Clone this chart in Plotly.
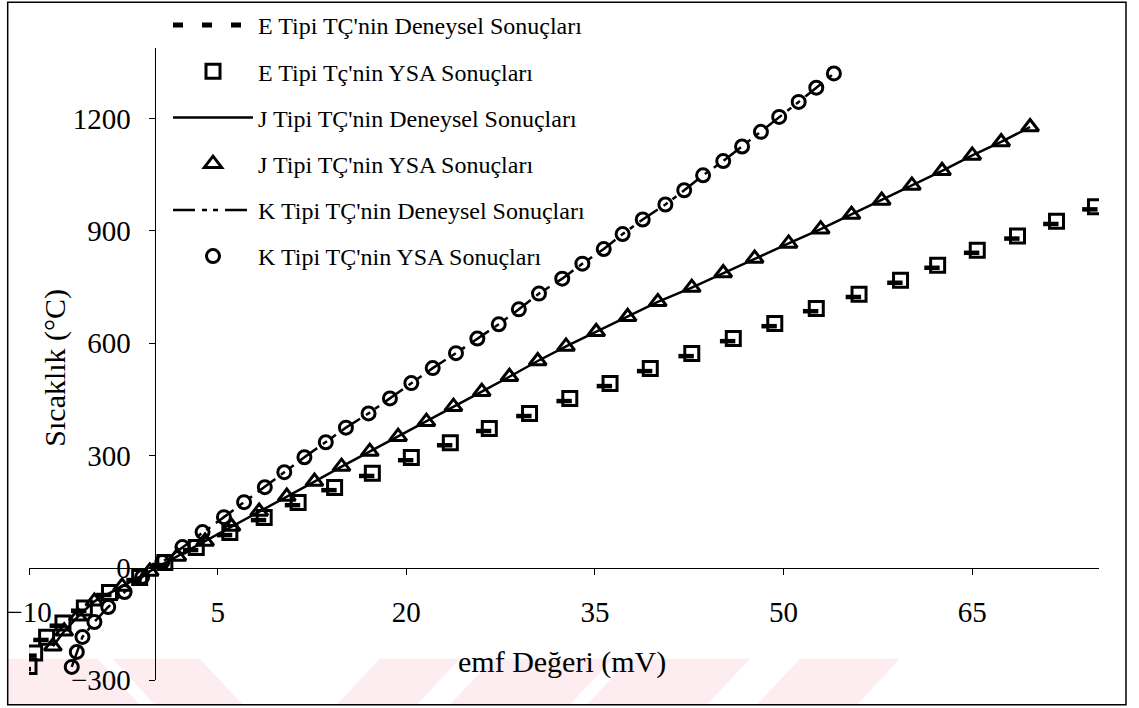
import plotly.graph_objects as go

# ---------------- data ----------------
# E type thermocouple: ANN (YSA) results
e_emf = [-10.0, -9.55, -8.6, -7.3, -5.6, -3.6, -1.2, 0.8, 3.3, 5.97, 8.7, 11.4, 14.3, 17.3,
         20.4, 23.5, 26.6, 29.8, 33.0, 36.2, 39.4, 42.7, 46.0, 49.3, 52.6, 56.0, 59.3, 62.25,
         65.4, 68.6, 71.7, 74.8]
e_temp = [-264, -228, -186, -148, -108, -66, -26, 14, 54, 94, 134, 174, 214, 252, 294, 334,
          372, 412, 452, 492, 532, 572, 612, 652, 692, 730, 768, 808, 848, 886, 925, 964]
# E type thermocouple: experimental results (short dash marks)
e_den_emf = [-10.45, -10.0, -9.05, -7.75, -6.05, -4.05, -1.65, 0.35, 2.85, 5.55, 8.25, 10.95,
             13.85, 16.85, 19.95, 23.05, 26.15, 29.35, 32.55, 35.75, 38.95, 42.25, 45.55,
             48.85, 52.15, 55.55, 58.85, 61.8, 64.95, 68.15, 71.25, 74.35]
e_den_temp = [-271, -235, -193, -155, -115, -73, -33, 7, 47, 87, 127, 167, 207, 245, 287, 327,
              365, 405, 445, 485, 525, 565, 605, 645, 685, 723, 761, 801, 841, 879, 918, 957]

# J type thermocouple
j_emf = [-8.1, -7.2, -6.1, -4.8, -2.6, -0.4, 1.8, 4.0, 6.1, 8.3, 10.5, 12.7, 14.85, 17.1,
         19.35, 21.6, 23.75, 26.0, 28.2, 30.45, 32.7, 35.1, 37.6, 40.0, 42.7, 45.2, 47.7,
         50.4, 52.95, 55.4, 57.8, 60.2, 62.6, 65.0, 67.3, 69.6]
j_temp = [-210, -170, -130, -90, -50, -10, 30, 70, 110, 150, 190, 230, 270, 310, 350, 390,
          430, 470, 510, 552, 591, 630, 670, 710, 748, 787, 826, 866, 904, 943, 981, 1021,
          1060, 1101, 1137, 1177]

# K type thermocouple
k_emf = [-6.6, -6.2, -5.75, -4.8, -3.7, -2.4, -1.0, 0.6, 2.2, 3.8, 5.5, 7.1, 8.75, 10.3,
         11.9, 13.6, 15.2, 17.0, 18.7, 20.4, 22.1, 23.95, 25.65, 27.35, 28.95, 30.55, 32.4,
         34.0, 35.7, 37.2, 38.8, 40.6, 42.1, 43.6, 45.2, 46.7, 48.2, 49.65, 51.2, 52.6, 54.0]
k_temp = [-265, -225, -185, -145, -105, -65, -25, 15, 55, 95, 135, 175, 215, 255, 295, 335,
          374, 412, 452, 493, 533, 573, 612, 650, 690, 732, 772, 812, 851, 891, 930, 970,
          1008, 1048, 1086, 1125, 1164, 1204, 1244, 1282, 1320]

names = ["E Tipi TÇ'nin Deneysel Sonuçları", "E Tipi Tç'nin YSA Sonuçları",
         "J Tipi TÇ'nin Deneysel Sonuçları", "J Tipi TÇ'nin YSA Sonuçları",
         "K Tipi TÇ'nin Deneysel Sonuçları", "K Tipi TÇ'nin YSA Sonuçları"]

x_title = "emf Değeri (mV)"
y_title = "Sıcaklık (°C)"

X_RANGE = [-10, 75.08]
Y_RANGE = [-300, 1388]

# ---------------- layout geometry ----------------
W, H = 1139, 708
ML, MR, MT, MB = 29.3, 40, 47.7, 27.7
PW, PH = W - ML - MR, H - MT - MB


def px_x(px):
    return (px - ML) / PW


def px_y(py):
    return (H - MB - py) / PH


FONT = "Liberation Serif, Times New Roman, serif"
BLACK = "#000000"
PINK = "#fdedf0"

fig = go.Figure()

# E experimental (legend entry + dash marks)
fig.add_trace(go.Scatter(x=[None], y=[None], mode="lines", name=names[0], legendgroup="g1",
                         line=dict(color=BLACK, width=5, dash="10px,19px")))
fig.add_trace(go.Scatter(x=e_den_emf, y=e_den_temp, mode="markers", name=names[0],
                         legendgroup="g1", showlegend=False,
                         marker=dict(symbol="line-ew", size=11, color=BLACK,
                                     line=dict(color=BLACK, width=4.5))))
# E ANN
fig.add_trace(go.Scatter(x=e_emf, y=e_temp, mode="markers", name=names[1], legendgroup="g2",
                         marker=dict(symbol="square-open", size=14, color=BLACK,
                                     line=dict(color=BLACK, width=3))))
# J experimental
fig.add_trace(go.Scatter(x=j_emf, y=j_temp, mode="lines", name=names[2], legendgroup="g3",
                         line=dict(color=BLACK, width=2.5)))
# J ANN
fig.add_trace(go.Scatter(x=j_emf, y=j_temp, mode="markers", name=names[3], legendgroup="g4",
                         marker=dict(symbol="triangle-up-open", size=15, color=BLACK,
                                     line=dict(color=BLACK, width=3))))
# K experimental
fig.add_trace(go.Scatter(x=k_emf, y=k_temp, mode="lines", name=names[4], legendgroup="g5",
                         line=dict(color=BLACK, width=2.5, dash="22px,7px,5px,6px,5px,7px")))
# K ANN
fig.add_trace(go.Scatter(x=k_emf, y=k_temp, mode="markers", name=names[5], legendgroup="g6",
                         marker=dict(symbol="circle-open", size=13, color=BLACK,
                                     line=dict(color=BLACK, width=3))))

x_cross = (0 - Y_RANGE[0]) / (Y_RANGE[1] - Y_RANGE[0])
y_cross = (0 - X_RANGE[0]) / (X_RANGE[1] - X_RANGE[0])

# faint pink watermark stripes along the bottom edge (pixel outlines)
stripes = [
    [(8, 659), (98, 659), (140, 705), (8, 705)],
    [(113, 659), (200, 659), (243, 705), (155, 705)],
    [(380, 659), (460, 659), (417, 705), (337, 705)],
    [(493, 659), (613, 659), (570, 705), (450, 705)],
    [(630, 659), (750, 659), (707, 705), (587, 705)],
    [(800, 659), (900, 659), (857, 705), (757, 705)],
]
shapes = []
for poly in stripes:
    path = "M " + " L ".join(f"{px_x(a):.5f},{px_y(b):.5f}" for a, b in poly) + " Z"
    shapes.append(dict(type="path", xref="paper", yref="paper", path=path,
                       fillcolor=PINK, line=dict(width=0), layer="below"))
shapes.append(dict(type="rect", xref="paper", yref="paper", x0=px_x(8), x1=px_x(1126),
                   y0=px_y(705), y1=px_y(2), line=dict(color=BLACK, width=1.5), layer="below"))

fig.update_layout(
    width=W, height=H,
    margin=dict(l=ML, r=MR, t=MT, b=MB, autoexpand=False),
    paper_bgcolor="white", plot_bgcolor="rgba(0,0,0,0)",
    font=dict(family=FONT, color=BLACK, size=24),
    showlegend=True,
    legend=dict(xref="container", yref="container", x=168 / W, y=1 - 3 / H,
                xanchor="left", yanchor="top", bgcolor="rgba(0,0,0,0)",
                font=dict(family=FONT, size=24, color=BLACK),
                itemwidth=80, traceorder="grouped", tracegroupgap=12,
                itemclick=False, itemdoubleclick=False),
    xaxis=dict(range=X_RANGE, tick0=-10, dtick=15, ticks="outside", ticklen=6, tickwidth=1,
               tickcolor=BLACK, showline=True, linecolor=BLACK, linewidth=1.2,
               anchor="free", position=x_cross, showgrid=False, zeroline=False,
               tickfont=dict(family=FONT, size=29, color=BLACK), ticklabelstandoff=12),
    yaxis=dict(range=Y_RANGE, tick0=0, dtick=300, ticks="outside", ticklen=6, tickwidth=1,
               tickcolor=BLACK, showline=True, linecolor=BLACK, linewidth=1.2,
               anchor="free", position=y_cross, showgrid=False, zeroline=False,
               tickfont=dict(family=FONT, size=29, color=BLACK), ticklabelstandoff=12),
    annotations=[
        dict(text=y_title, xref="paper", yref="paper", x=px_x(55), y=px_y(368),
             xanchor="center", yanchor="middle", textangle=-90, showarrow=False,
             font=dict(family=FONT, size=30, color=BLACK)),
        dict(text=x_title, xref="paper", yref="paper", x=px_x(562), y=px_y(662),
             xanchor="center", yanchor="middle", showarrow=False,
             font=dict(family=FONT, size=30, color=BLACK)),
    ],
    shapes=shapes,
)

fig.write_html("out.html")
